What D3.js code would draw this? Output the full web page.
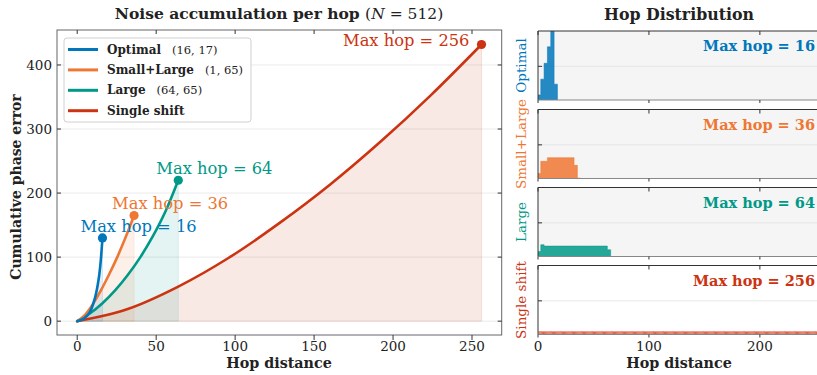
<!DOCTYPE html>
<html>
<head>
<meta charset="utf-8">
<script src="https://cdn.jsdelivr.net/npm/d3@7/dist/d3.min.js"></script>
<style>
  body { margin: 0; background: #fff; }
  svg { display: block; }
  text { font-family: "DejaVu Serif", serif; fill: #222; }
</style>
</head>
<body>
<svg id="chart" width="817" height="375"></svg>
<script>
// ---- data ----
const strategies = ["Optimal", "Small+Large", "Large", "Single shift"];
const pairLabels = ["(16, 17)", "(1, 65)", "(64, 65)", ""];
const maxHops = [16, 36, 64, 256];
const colors = ["#0077BB", "#EE7733", "#009988", "#CC3311"];

// cumulative phase error along hop distance
const optimalHop = [0, 4, 8, 10, 12, 13, 14, 15, 16];
const optimalErr = [0, 4, 14, 26, 44, 57, 73, 97, 130];
const smallLargeHop = [0, 5, 10, 15, 20, 25, 30, 36];
const smallLargeErr = [0, 10, 27, 48, 72, 98, 127, 165];
const largeHop = [0, 8, 16, 24, 32, 40, 48, 56, 64];
const largeErr = [0, 12, 28, 48, 72, 100, 133, 172, 220];
const singleHop = [0, 32, 64, 96, 128, 160, 192, 224, 256];
const singleErr = [0, 19, 54, 99, 153, 213, 280, 353, 432];

const xTicksLeft = [0, 50, 100, 150, 200, 250];
const yTicksLeft = [0, 100, 200, 300, 400];
const xTicksRight = [0, 100, 200];

// hop distribution histograms (bin edges + heights)
const optimalEdges = [-0.5, 2.5, 5.5, 8.5, 11.5, 14.5, 17.5];
const optimalCounts = [0.015, 0.062, 0.109, 0.158, 0.27, 0.047];
const smallLargeEdges = [-0.5, 2.5, 5.5, 8.5, 11.5, 14.5, 17.5, 20.5, 23.5, 26.5, 29.5, 32.5, 35.5, 38.5];
const smallLargeCounts = [0.015, 0.051, 0.051, 0.062, 0.062, 0.062, 0.062, 0.062, 0.062, 0.062, 0.062, 0.039, 0.001];
const largeEdges = [-0.5, 2.5, 5.5, 8.5, 11.5, 14.5, 17.5, 20.5, 23.5, 26.5, 29.5, 32.5, 35.5, 38.5,
  41.5, 44.5, 47.5, 50.5, 53.5, 56.5, 59.5, 62.5, 65.5];
const largeCounts = [0.015, 0.035, 0.031, 0.031, 0.031, 0.031, 0.031, 0.031, 0.031, 0.031, 0.031,
  0.031, 0.031, 0.031, 0.031, 0.031, 0.031, 0.031, 0.031, 0.031, 0.031, 0.02];
const singleShiftLevel = 0.01; // flat: every hop 1..256 equally often
const histYTick = [0.1];

const curves = [
  { hop: optimalHop, err: optimalErr },
  { hop: smallLargeHop, err: smallLargeErr },
  { hop: largeHop, err: largeErr },
  { hop: singleHop, err: singleErr }
];

const svg = d3.select("#chart");

// ---- left panel ----
const L = { left: 57, right: 501.7, top: 30, bottom: 335 };
const x = d3.scaleLinear().domain([-12.8, 268.8]).range([L.left, L.right]);
const y = d3.scaleLinear().domain([-21.6, 454.6]).range([L.bottom, L.top]);

const left = svg.append("g");
left.append("defs").append("clipPath").attr("id", "clipL")
  .append("rect").attr("x", L.left).attr("y", L.top)
  .attr("width", L.right - L.left).attr("height", L.bottom - L.top);

// grid
left.selectAll(".grid").data(yTicksLeft).enter().append("line")
  .attr("x1", L.left).attr("x2", L.right)
  .attr("y1", d => y(d)).attr("y2", d => y(d))
  .attr("stroke", "#e4e4e4").attr("stroke-width", 0.8);

const plot = left.append("g").attr("clip-path", "url(#clipL)");

const area = d3.area().x(d => x(d[0])).y0(y(0)).y1(d => y(d[1])).curve(d3.curveMonotoneX);
const line = d3.line().x(d => x(d[0])).y(d => y(d[1])).curve(d3.curveMonotoneX);
const pts = curves.map(c => c.hop.map((h, i) => [h, c.err[i]]));

// shaded areas (largest first)
[3, 2, 1, 0].forEach(i => {
  plot.append("path").datum(pts[i])
    .attr("d", area)
    .attr("fill", colors[i]).attr("fill-opacity", 0.11)
    .attr("stroke", colors[i]).attr("stroke-opacity", 0.12).attr("stroke-width", 1);
});

[3, 2, 1, 0].forEach(i => {
  plot.append("path").datum(pts[i])
    .attr("d", line)
    .attr("fill", "none").attr("stroke", colors[i])
    .attr("stroke-width", 2.6).attr("stroke-linecap", "round");
  const end = pts[i][pts[i].length - 1];
  plot.append("circle").attr("cx", x(end[0])).attr("cy", y(end[1]))
    .attr("r", 4.6).attr("fill", colors[i]);
});

// annotations
pts.forEach((p, i) => {
  const end = p[p.length - 1];
  const t = left.append("text")
    .style("fill", colors[i])
    .style("font-size", "16.3px")
    .text("Max hop = " + maxHops[i]);
  if (i === 3) {
    t.attr("x", x(end[0]) - 12).attr("y", y(end[1]) + 2).attr("text-anchor", "end");
  } else {
    t.attr("x", x(end[0]) - 22).attr("y", y(end[1]) - 6);
  }
});

// frame
left.append("rect").attr("x", L.left).attr("y", L.top)
  .attr("width", L.right - L.left).attr("height", L.bottom - L.top)
  .attr("fill", "none").attr("stroke", "#666").attr("stroke-width", 1);

// ticks
const tk = left.append("g").attr("stroke", "#333").attr("stroke-width", 1);
xTicksLeft.forEach(v => {
  tk.append("line").attr("x1", x(v)).attr("x2", x(v)).attr("y1", L.bottom).attr("y2", L.bottom + 5);
  tk.append("line").attr("x1", x(v)).attr("x2", x(v)).attr("y1", L.top).attr("y2", L.top + 4);
});
yTicksLeft.forEach(v => {
  tk.append("line").attr("x1", L.left).attr("x2", L.left + 4).attr("y1", y(v)).attr("y2", y(v));
  tk.append("line").attr("x1", L.right - 4).attr("x2", L.right).attr("y1", y(v)).attr("y2", y(v));
});
left.selectAll(".xl").data(xTicksLeft).enter().append("text")
  .attr("x", d => x(d)).attr("y", 351).attr("text-anchor", "middle")
  .style("font-size", "13.5px").text(d => d);
left.selectAll(".yl").data(yTicksLeft).enter().append("text")
  .attr("x", 52).attr("y", d => y(d) + 5).attr("text-anchor", "end")
  .style("font-size", "13.5px").text(d => d);

// titles / axis labels
const title = left.append("text").attr("x", 279).attr("y", 19).attr("text-anchor", "middle")
  .style("font-size", "15.5px");
title.append("tspan").style("font-weight", "bold").text("Noise accumulation per hop ");
title.append("tspan").text("(");
title.append("tspan").style("font-style", "italic").text("N");
title.append("tspan").text(" = 512)");

left.append("text").attr("x", 279).attr("y", 368).attr("text-anchor", "middle")
  .style("font-size", "14.3px").style("font-weight", "bold").text("Hop distance");
left.append("text").attr("transform", "translate(21,187) rotate(-90)").attr("text-anchor", "middle")
  .style("font-size", "14px").style("font-weight", "bold").text("Cumulative phase error");

// legend
const lg = left.append("g");
lg.append("rect").attr("x", 64).attr("y", 38).attr("width", 187).attr("height", 84).attr("rx", 3)
  .attr("fill", "#fff").attr("fill-opacity", 0.9).attr("stroke", "#d0d0d0");
strategies.forEach((s, i) => {
  const ry = 49.5 + i * 20.4;
  lg.append("line").attr("x1", 68).attr("x2", 98).attr("y1", ry).attr("y2", ry)
    .attr("stroke", colors[i]).attr("stroke-width", 3);
  const t = lg.append("text").attr("x", 107).attr("y", ry + 4).style("font-size", "12px");
  t.append("tspan").style("font-weight", "bold").text(s);
  if (pairLabels[i]) t.append("tspan").attr("dx", 11).style("font-size", "11.5px").text(pairLabels[i]);
});

// ---- right panels ----
const R = { left: 538, right: 822, height: 69 };
const panelTops = [31, 109.5, 187.5, 265.5];
const panelBg = ["#f5f5f5", "#f5f5f5", "#f5f5f5", "#ffffff"];
const xr = d3.scaleLinear().domain([0, 256]).range([R.left, R.right]);
const hists = [
  { edges: optimalEdges, counts: optimalCounts },
  { edges: smallLargeEdges, counts: smallLargeCounts },
  { edges: largeEdges, counts: largeCounts },
  { edges: d3.range(0.5, 257, 1), counts: null }
];

panelTops.forEach((top, i) => {
  const g = svg.append("g");
  const yr = d3.scaleLinear().domain([0, 0.205]).range([top + R.height, top]);
  g.append("defs").append("clipPath").attr("id", "clipR" + i)
    .append("rect").attr("x", R.left).attr("y", top).attr("width", R.right - R.left).attr("height", R.height);
  g.append("rect").attr("x", R.left).attr("y", top).attr("width", R.right - R.left).attr("height", R.height)
    .attr("fill", panelBg[i]);
  histYTick.forEach(v => {
    g.append("line").attr("x1", R.left).attr("x2", R.right).attr("y1", yr(v)).attr("y2", yr(v))
      .attr("stroke", "#e2e2e2").attr("stroke-width", 0.8);
  });
  const h = hists[i];
  const bins = h.edges.slice(0, -1).map((e, j) => ({
    x0: e, x1: h.edges[j + 1], v: h.counts ? h.counts[j] : singleShiftLevel
  }));
  const hg = g.append("g").attr("clip-path", `url(#clipR${i})`);
  if (i < 3) {
    // stepfilled histogram outline
    const steps = bins.map(b => [b.x0, b.v]).concat([[bins[bins.length - 1].x1, bins[bins.length - 1].v]]);
    const stepArea = d3.area().x(d => xr(d[0])).y0(yr(0)).y1(d => yr(d[1])).curve(d3.curveStepAfter);
    hg.append("path").datum(steps).attr("d", stepArea)
      .attr("fill", colors[i]).attr("fill-opacity", 0.85)
      .attr("stroke", colors[i]).attr("stroke-opacity", 0.85).attr("stroke-width", 0.6);
  } else {
    hg.selectAll("rect").data(bins).enter().append("rect")
      .attr("x", d => xr(d.x0)).attr("width", d => xr(d.x1) - xr(d.x0))
      .attr("y", d => yr(d.v)).attr("height", d => yr(0) - yr(d.v))
      .attr("fill", colors[i]).attr("fill-opacity", 0.85)
      .attr("stroke", "#f2a898").attr("stroke-width", 0.3);
  }

  // frame: top + left dark, bottom grey
  g.append("line").attr("x1", R.left).attr("x2", R.right).attr("y1", top).attr("y2", top)
    .attr("stroke", "#333");
  g.append("line").attr("x1", R.left).attr("x2", R.left).attr("y1", top).attr("y2", top + R.height)
    .attr("stroke", "#333");
  g.append("line").attr("x1", R.left).attr("x2", R.right).attr("y1", top + R.height).attr("y2", top + R.height)
    .attr("stroke", "#888").attr("stroke-width", 1.2);
  xTicksRight.forEach(v => {
    g.append("line").attr("x1", xr(v)).attr("x2", xr(v)).attr("y1", top).attr("y2", top + 4).attr("stroke", "#333");
    g.append("line").attr("x1", xr(v)).attr("x2", xr(v)).attr("y1", top + R.height).attr("y2", top + R.height + 3).attr("stroke", "#333");
  });
  histYTick.forEach(v => {
    g.append("line").attr("x1", R.left).attr("x2", R.left + 4).attr("y1", yr(v)).attr("y2", yr(v)).attr("stroke", "#333");
  });

  g.append("text").attr("x", 815).attr("y", top + 20).attr("text-anchor", "end")
    .style("fill", colors[i]).style("font-size", "14.5px").style("font-weight", "bold")
    .text("Max hop = " + maxHops[i]);
  g.append("text").attr("transform", `translate(526,${top + R.height / 2}) rotate(-90)`)
    .attr("text-anchor", "middle").style("fill", colors[i]).style("font-size", "13.5px")
    .text(strategies[i]);
});

svg.selectAll(".xr").data(xTicksRight).enter().append("text")
  .attr("x", d => xr(d)).attr("y", 351).attr("text-anchor", "middle")
  .style("font-size", "13.5px").text(d => d);
svg.append("text").attr("x", 679).attr("y", 368).attr("text-anchor", "middle")
  .style("font-size", "14.3px").style("font-weight", "bold").text("Hop distance");
svg.append("text").attr("x", 679).attr("y", 20).attr("text-anchor", "middle")
  .style("font-size", "15.8px").style("font-weight", "bold").text("Hop Distribution");
</script>
</body>
</html>
